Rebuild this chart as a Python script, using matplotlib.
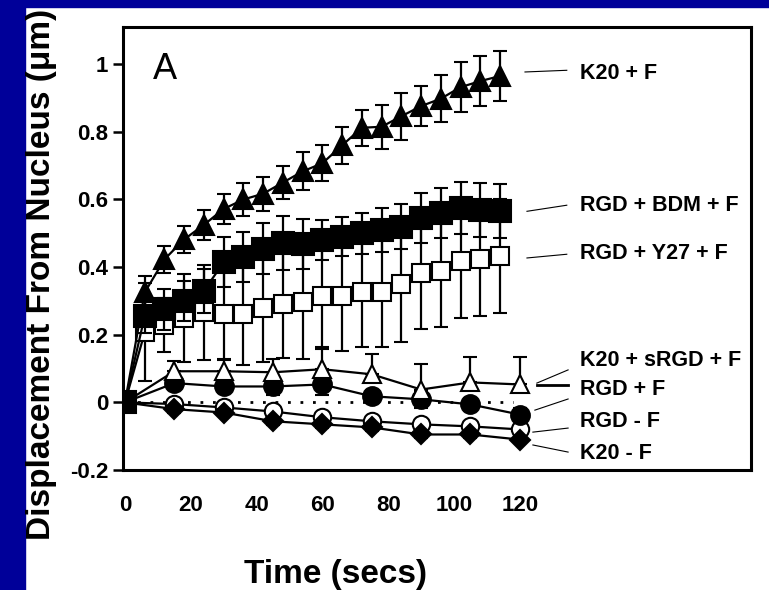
import matplotlib
matplotlib.use("Agg")
import matplotlib.pyplot as plt
from matplotlib.patches import Rectangle

plt.rcParams['font.family'] = ['Liberation Sans', 'DejaVu Sans']

# time points (s)
t_dense = [0, 6, 12, 18, 24, 30, 36, 42, 48, 54, 60, 66, 72, 78, 84, 90, 96, 102, 108, 114]
t_sparse = [0, 15, 30, 45, 60, 75, 90, 105, 120]

# displacement from nucleus (um) and error
k20_f = [0, 0.325, 0.423, 0.482, 0.525, 0.572, 0.600, 0.617, 0.650, 0.683,
         0.707, 0.760, 0.812, 0.815, 0.846, 0.876, 0.898, 0.932, 0.950, 0.965]
k20_f_err = [0, 0.05, 0.04, 0.04, 0.045, 0.045, 0.048, 0.05, 0.05, 0.056,
             0.053, 0.054, 0.053, 0.065, 0.07, 0.06, 0.07, 0.074, 0.074, 0.075]

rgd_bdm_f = [0, 0.255, 0.275, 0.30, 0.33, 0.414, 0.43, 0.455, 0.47, 0.468,
             0.48, 0.49, 0.50, 0.51, 0.52, 0.545, 0.56, 0.575, 0.568, 0.565]
rgd_bdm_f_err = [0, 0.05, 0.06, 0.06, 0.065, 0.074, 0.075, 0.075, 0.08, 0.074,
                 0.06, 0.057, 0.06, 0.065, 0.066, 0.074, 0.074, 0.077, 0.08, 0.08]

rgd_y27_f = [0, 0.207, 0.228, 0.25, 0.266, 0.26, 0.26, 0.28, 0.29, 0.298,
             0.314, 0.314, 0.325, 0.325, 0.349, 0.384, 0.388, 0.417, 0.423, 0.432]
rgd_y27_f_err = [0, 0.145, 0.08, 0.13, 0.14, 0.135, 0.15, 0.16, 0.16, 0.17,
                 0.15, 0.163, 0.162, 0.162, 0.17, 0.168, 0.166, 0.168, 0.169, 0.169]

k20_srgd_f = [0, 0.092, 0.092, 0.089, 0.098, 0.083, 0.038, 0.059, 0.053]
k20_srgd_f_err = [0, 0.03, 0.035, 0.04, 0.06, 0.06, 0.075, 0.075, 0.08]

rgd_f = [0, 0.057, 0.047, 0.047, 0.053, 0.018, 0.009, -0.006, -0.036]
rgd_f_err = [0, 0.02, 0.02, 0.025, 0.03, 0.02, 0.025, 0.02, 0.02]

rgd_no_f = [0, -0.005, -0.015, -0.027, -0.044, -0.056, -0.065, -0.071, -0.08]
rgd_no_f_err = [0, 0.01, 0.01, 0.012, 0.012, 0.012, 0.012, 0.012, 0.012]

k20_no_f = [0, -0.02, -0.03, -0.056, -0.065, -0.074, -0.095, -0.095, -0.11]
k20_no_f_err = [0, 0.01, 0.01, 0.01, 0.01, 0.01, 0.01, 0.01, 0.01]

y_ticks = [-0.2, 0, 0.2, 0.4, 0.6, 0.8, 1]
y_tick_labels = ["-0.2", "0", "0.2", "0.4", "0.6", "0.8", "1"]
x_ticks = [0, 20, 40, 60, 80, 100, 120]

series_labels = ["K20 + F", "RGD + BDM + F", "RGD + Y27 + F", "K20 + sRGD + F",
                 "RGD + F", "RGD - F", "K20 - F"]

# label positions and leader lines (layout, data coords)
label_pos = [(138.3, 0.973), (138.3, 0.583), (138.3, 0.441), (138.3, 0.125),
             (138.3, 0.037), (138.3, -0.058), (138.3, -0.150)]
leaders = [((121.6, 134.3), (0.977, 0.982)),
           ((122.2, 134.3), (0.565, 0.583)),
           ((122.2, 134.3), (0.427, 0.438)),
           ((125.2, 134.7), (0.057, 0.096)),
           ((125.2, 134.7), (0.051, 0.051)),
           ((124.6, 134.7), (-0.023, 0.010)),
           ((124.0, 134.7), (-0.088, -0.076)),
           ((124.0, 134.7), (-0.126, -0.147))]

W, H = 769, 590
fig = plt.figure(figsize=(W / 100, H / 100), dpi=100)
fig.patch.set_facecolor("white")
blue = "#000099"
fig.patches.append(Rectangle((0, 0), 25 / W, 1, transform=fig.transFigure,
                             color=blue, zorder=0))
fig.patches.append(Rectangle((0, 1 - 7 / H), 1, 7 / H, transform=fig.transFigure,
                             color=blue, zorder=0))

ax = fig.add_axes([123 / W, 1 - 470 / H, (751 - 123) / W, (470 - 27) / H])

eb = dict(color="black", capsize=5, elinewidth=1.6, capthick=1.6,
          linewidth=1.6, markeredgewidth=1.5, markeredgecolor="black")

# zero reference
ax.plot([0, 118], [0, 0], color="black", lw=2, ls=(0, (1, 3.5)), zorder=1)

# sparse series
ax.errorbar(t_sparse, rgd_no_f, yerr=rgd_no_f_err, fmt="-o", ms=12.5,
            mfc="white", zorder=2, **eb)
ax.errorbar(t_sparse, k20_no_f, yerr=k20_no_f_err, fmt="-D", ms=10.5,
            mfc="black", zorder=3, **eb)
ax.errorbar(t_sparse, rgd_f, yerr=rgd_f_err, fmt="-o", ms=13.5,
            mfc="black", zorder=3, **eb)
ax.errorbar(t_sparse, k20_srgd_f, yerr=[[0] * len(t_sparse), k20_srgd_f_err],
            fmt="-^", ms=13, mfc="white", zorder=4, **eb)

# dense series
ax.errorbar(t_dense, rgd_y27_f, yerr=rgd_y27_f_err, fmt="-s", ms=12.5,
            mfc="white", zorder=5, **eb)
ax.errorbar(t_dense, k20_f, yerr=k20_f_err, fmt="-^", ms=14,
            mfc="black", zorder=6, **eb)
ax.errorbar(t_dense, rgd_bdm_f, yerr=rgd_bdm_f_err, fmt="-s", ms=15.5,
            mfc="black", zorder=7, **eb)

for (xs, ys) in leaders:
    ax.plot(xs, ys, color="black", lw=0.8, zorder=1, clip_on=False)
ax.plot(leaders[4][0], leaders[4][1], color="black", lw=2, zorder=1)

for lab, (x, y) in zip(series_labels, label_pos):
    ax.text(x, y, lab, fontsize=15.5, fontweight="bold", ha="left", va="center")

ax.text(12.2, 0.985, "A", fontsize=26, ha="center", va="center")

ax.set_xlim(-0.6, 190.3)
ax.set_ylim(-0.2, 1.11)
ax.set_yticks(y_ticks)
ax.set_yticklabels(y_tick_labels)
ax.set_xticks(x_ticks)
ax.set_xticklabels([str(v) for v in x_ticks])
ax.tick_params(axis="y", direction="out", length=7, width=1.8, pad=3.5,
               labelsize=16)
ax.tick_params(axis="x", length=0, pad=18, labelsize=16)
for lbl in ax.get_xticklabels() + ax.get_yticklabels():
    lbl.set_fontweight("bold")
for s in ax.spines.values():
    s.set_linewidth(2.2)

fig.text(42 / W, 1 - 274 / H, "Displacement From Nucleus (\u03bcm)", rotation=90,
         fontsize=24, fontweight="bold", ha="center", va="center")
fig.text(336 / W, 1 - 583 / H, "Time (secs)", fontsize=24, fontweight="bold",
         ha="center", va="baseline")

fig.savefig("out.png", dpi=100)
